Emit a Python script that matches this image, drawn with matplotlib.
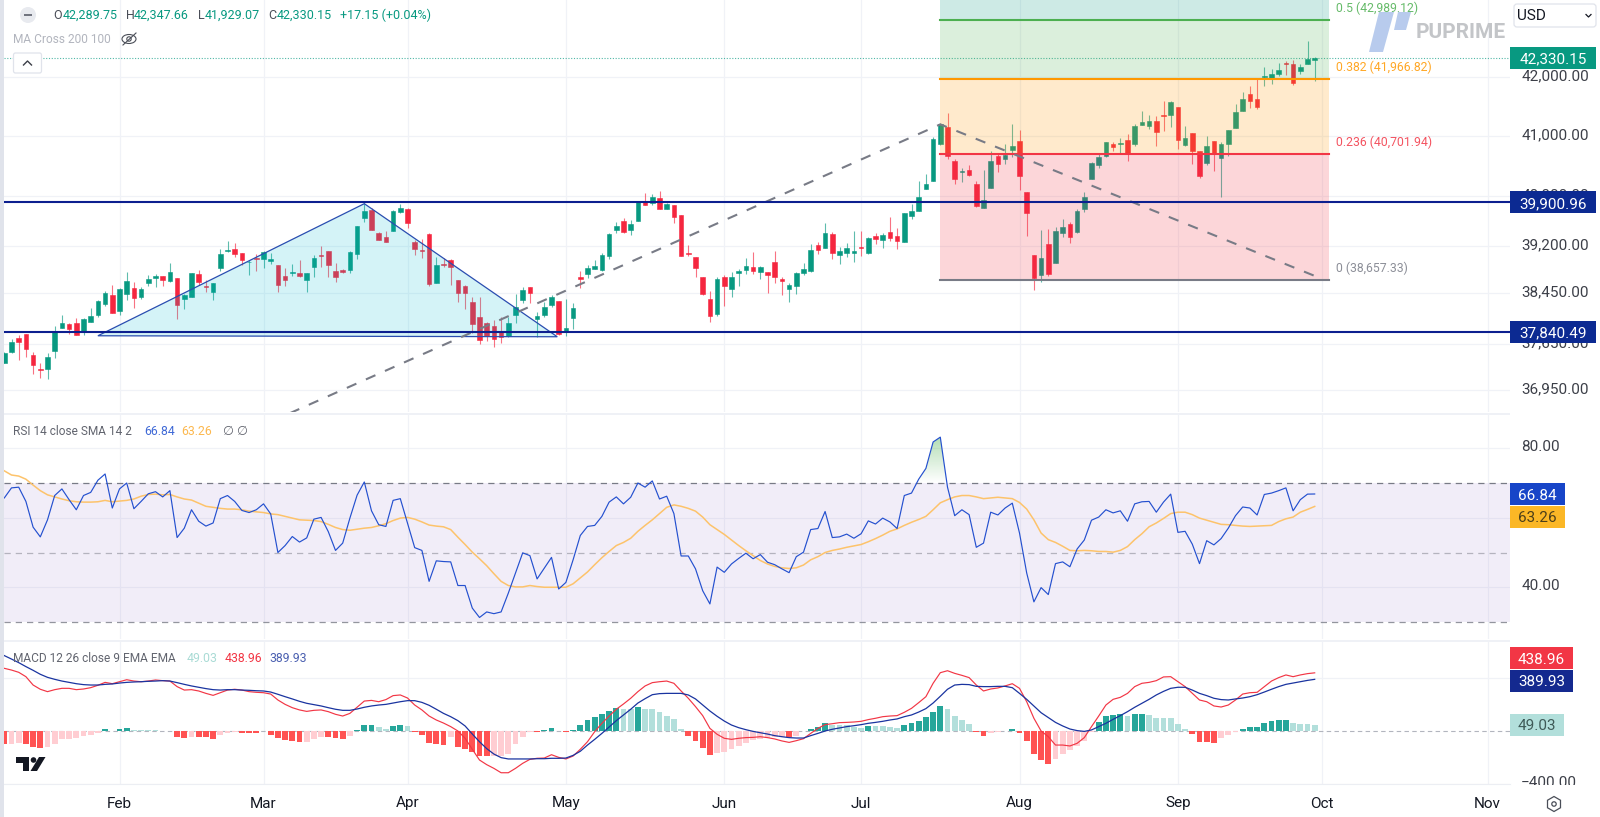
#! /usr/bin/env python
# -*- coding: utf-8 -*-

"""plot.py

Dow Jones daily candles with fibonacci levels, RSI and MACD panes.
"""

import matplotlib

matplotlib.use("Agg")

import matplotlib.pyplot as plt
import matplotlib.ticker
import numpy as np
from matplotlib.patches import Circle, Ellipse, FancyBboxPatch, Polygon, Rectangle, RegularPolygon
from matplotlib.transforms import ScaledTranslation

plt.rcParams["font.family"] = ["Roboto", "DejaVu Sans"]

# candles
opens = [
    37370, 37533, 37749, 37811, 37482, 37273, 37278, 37549, 37903, 37960,
    37976, 37841, 38002, 38111, 38278, 38419, 38168, 38434, 38534, 38387,
    38602, 38681, 38713, 38639, 38687, 38356, 38382, 38750, 38565, 38466,
    38839, 39116, 39148, 39079, 38935, 39009, 38983, 38951, 38892, 38713,
    38765, 38765, 38650, 38866, 39052, 39116, 38797, 38813, 38808, 39063,
    39653, 39772, 39399, 39340, 39442, 39750, 39799, 39255, 39132, 39388,
    38608, 38908, 38972, 38655, 38560, 38309, 38069, 37986, 37940, 37841,
    37780, 38106, 38340, 38539, 38049, 38106, 38262, 38329, 37836, 38059,
    38708, 38745, 38834, 38808, 39041, 39453, 39593, 39453, 39604, 39907,
    39891, 39978, 39794, 39853, 39691, 39084, 39020, 38702, 38361, 38121,
    38697, 38513, 38771, 38808, 38855, 38776, 38776, 38935, 38671, 38513,
    38560, 38760, 38792, 39207, 39169, 39383, 39047, 39089, 39079, 39180,
    39079, 39351, 39297, 39416, 39351, 39265, 39685, 39766, 40120, 40251,
    40860, 41144, 40582, 40395, 40439, 40202, 39815, 40136, 40665, 40615,
    40759, 40910, 40076, 39047, 38734, 39223, 38930, 39399, 39545, 39426,
    39799, 40284, 40510, 40665, 40871, 40871, 40932, 40871, 41183, 41166,
    41245, 41352, 41358, 41482, 40854, 41043, 40743, 40543, 40910, 40632,
    40860, 41138, 41426, 41714, 41629, 42000, 41988, 42051, 42235, 42229,
    42097, 42229, 42289.75,
]
highs = [
    37539, 37728, 37795, 37811, 37528, 37365, 37513, 37934, 38100, 37976,
    38054, 38054, 38209, 38340, 38487, 38576, 38523, 38781, 38629, 38539,
    38734, 38750, 38718, 38919, 38692, 38434, 38771, 38813, 38655, 38613,
    39143, 39276, 39249, 39084, 38978, 39068, 39116, 39079, 38892, 38845,
    38908, 38972, 38771, 39052, 39196, 39121, 38919, 38829, 39116, 39523,
    39897, 39805, 39426, 39437, 39777, 39875, 39805, 39292, 39303, 39410,
    39025, 38999, 38983, 38655, 38576, 38382, 38382, 38002, 38028, 38080,
    38069, 38434, 38539, 38550, 38147, 38314, 38419, 38329, 38350, 38288,
    38797, 38892, 38972, 39079, 39399, 39588, 39642, 39615, 39924, 40048,
    40032, 40087, 39897, 39859, 39691, 39212, 39025, 38702, 38487, 38708,
    38734, 38781, 38823, 39004, 39100, 38882, 38787, 39111, 38708, 38602,
    38776, 38919, 39228, 39255, 39566, 39416, 39185, 39239, 39437, 39437,
    39346, 39399, 39410, 39664, 39485, 39734, 39874, 40257, 40361, 40977,
    41211, 41380, 40609, 40471, 40516, 40257, 40439, 40748, 40720, 40865,
    41200, 41099, 40076, 39047, 39453, 39469, 39507, 39631, 39588, 39788,
    40065, 40565, 40692, 40899, 40904, 40971, 41032, 41200, 41414, 41352,
    41341, 41583, 41583, 41482, 41166, 41054, 40754, 40999, 40910, 40899,
    41099, 41539, 41737, 41845, 41960, 42166, 42143, 42235, 42281, 42292,
    42223, 42627, 42347.66,
]
lows = [
    37370, 37523, 37411, 37462, 37202, 37132, 37116, 37447, 37898, 37805,
    37795, 37800, 37992, 38080, 38251, 38131, 38106, 38340, 38220, 38356,
    38560, 38539, 38565, 38629, 38043, 38199, 38382, 38576, 38460, 38340,
    38802, 39095, 39025, 38887, 38739, 38802, 38850, 38908, 38460, 38565,
    38718, 38708, 38471, 38708, 38866, 38708, 38618, 38760, 38760, 38988,
    39588, 39453, 39292, 39260, 39437, 39723, 39491, 39057, 39009, 38565,
    38602, 38855, 38576, 38304, 38199, 37821, 37656, 37708, 37615, 37677,
    37770, 37976, 38299, 38299, 37770, 38080, 38235, 37800, 37785, 37888,
    38523, 38692, 38829, 38802, 38993, 39410, 39410, 39372, 39599, 39859,
    39859, 39794, 39788, 39572, 39041, 39036, 38708, 38419, 37997, 38090,
    38246, 38392, 38560, 38750, 38750, 38665, 38445, 38613, 38419, 38309,
    38434, 38734, 38787, 39063, 39164, 38993, 38914, 39025, 38935, 39041,
    39073, 39228, 39169, 39281, 39153, 39260, 39637, 39761, 40114, 40246,
    40854, 40609, 40197, 40230, 40340, 39821, 39815, 40131, 40400, 40527,
    40654, 40103, 39361, 38497, 38629, 38723, 38919, 39346, 39249, 39399,
    39745, 40279, 40460, 40654, 40754, 40720, 40587, 40837, 41177, 41121,
    40837, 41082, 41155, 40782, 40837, 40527, 40295, 40521, 40422, 39994,
    40665, 41133, 41420, 41471, 41454, 41845, 41880, 42017, 42034, 41863,
    42045, 42223, 41929.07,
]
closes = [
    37513, 37682, 37692, 37584, 37340, 37253, 37452, 37846, 37986, 37888,
    37800, 38038, 38095, 38330, 38450, 38142, 38513, 38639, 38371, 38518,
    38671, 38718, 38650, 38781, 38267, 38424, 38765, 38623, 38550, 38608,
    39068, 39132, 39063, 38967, 38946, 38983, 39095, 38988, 38581, 38655,
    38781, 38718, 38765, 39004, 39036, 38887, 38702, 38781, 39100, 39518,
    39766, 39458, 39297, 39266, 39755, 39805, 39561, 39153, 39116, 38587,
    38892, 38887, 38866, 38455, 38450, 37971, 37718, 37785, 37739, 37759,
    37976, 38235, 38497, 38445, 38085, 38235, 38382, 37806, 37898, 38219,
    38671, 38850, 38876, 39057, 39389, 39518, 39421, 39550, 39913, 39864,
    39994, 39794, 39869, 39664, 39041, 39063, 38845, 38434, 38090, 38671,
    38565, 38702, 38797, 38876, 38797, 38855, 38734, 38702, 38639, 38576,
    38766, 38823, 39132, 39137, 39399, 39089, 39111, 39159, 39111, 39159,
    39324, 39303, 39367, 39330, 39281, 39723, 39755, 39994, 40208, 40949,
    41194, 40671, 40285, 40411, 40351, 39848, 39935, 40582, 40532, 40682,
    40832, 40334, 39734, 38681, 38999, 38745, 39431, 39496, 39346, 39755,
    39994, 40549, 40648, 40893, 40815, 40882, 40704, 41166, 41228, 41245,
    41071, 41341, 41572, 40926, 40965, 40743, 40334, 40832, 40698, 40865,
    41093, 41397, 41617, 41595, 41488, 42023, 42051, 42120, 42218, 41903,
    42172, 42304, 42330.15,
]

rsi_values = [
    65.7, 68.6, 68.8, 64.7, 57.3, 54.5, 59.4, 66.4, 68.3, 65.2,
    62.3, 66.4, 67.3, 70.8, 72.6, 62.8, 68.3, 70.0, 62.6, 64.7,
    66.9, 67.5, 66.0, 67.8, 54.3, 57.0, 62.3, 59.0, 57.6, 58.5,
    65.5, 66.4, 64.7, 62.1, 61.5, 62.3, 64.0, 61.1, 50.0, 52.0,
    54.6, 53.0, 54.2, 59.6, 60.1, 56.0, 50.6, 52.7, 59.9, 66.5,
    70.3, 62.0, 58.0, 57.5, 65.0, 65.5, 58.5, 51.4, 50.6, 41.7,
    47.6, 47.4, 47.3, 40.5, 40.5, 34.0, 31.3, 32.9, 32.4, 32.9,
    38.3, 44.1, 49.9, 49.1, 42.4, 45.5, 48.6, 39.5, 41.4, 47.9,
    54.9, 57.5, 57.8, 60.4, 64.5, 66.0, 64.0, 65.9, 70.0, 68.8,
    70.6, 65.4, 66.2, 61.2, 49.0, 49.0, 45.3, 39.0, 35.2, 45.8,
    44.3, 46.7, 48.3, 49.8, 48.2, 49.4, 47.2, 46.5, 45.3, 44.2,
    48.8, 50.1, 56.6, 56.9, 61.8, 54.3, 54.5, 55.3, 54.1, 55.4,
    59.1, 58.2, 59.9, 58.8, 56.9, 66.4, 67.1, 71.1, 74.2, 81.8,
    83.2, 68.8, 60.6, 62.3, 60.9, 51.5, 52.7, 61.6, 60.8, 62.8,
    64.2, 55.6, 44.1, 35.8, 39.9, 37.9, 46.8, 47.3, 45.9, 51.0,
    53.6, 59.3, 60.2, 62.3, 61.4, 62.0, 59.0, 64.0, 64.6, 64.7,
    61.6, 64.5, 66.8, 55.8, 56.1, 52.4, 46.8, 53.4, 52.2, 54.0,
    57.0, 60.6, 63.1, 62.8, 60.8, 66.7, 67.1, 67.8, 68.6, 62.0,
    65.2, 66.8, 66.84,
]
rsi_sma = [
    73.5, 72.3, 72.0, 71.1, 69.4, 67.8, 66.6, 66.0, 65.4, 64.9,
    64.6, 64.5, 64.5, 64.6, 65.0, 64.6, 64.8, 65.0, 65.4, 66.2,
    66.7, 66.8, 66.6, 66.7, 66.0, 65.4, 65.1, 64.2, 63.3, 63.0,
    62.7, 62.5, 62.5, 62.3, 61.9, 61.7, 61.5, 61.1, 60.9, 60.4,
    59.9, 59.4, 59.3, 59.2, 58.9, 58.1, 57.2, 56.6, 56.4, 56.7,
    57.0, 57.2, 57.7, 58.3, 59.2, 59.9, 60.1, 59.6, 58.8, 57.9,
    57.6, 57.4, 56.6, 54.4, 52.3, 50.1, 48.2, 46.2, 43.9, 41.7,
    40.5, 40.1, 40.1, 40.5, 40.2, 40.0, 40.0, 40.0, 40.0, 41.0,
    42.7, 44.4, 46.5, 48.5, 50.3, 52.0, 52.9, 54.1, 56.1, 57.8,
    59.4, 61.2, 63.0, 63.7, 63.3, 62.7, 61.9, 60.2, 58.0, 56.6,
    55.2, 53.6, 52.0, 50.5, 49.1, 47.7, 46.7, 46.0, 45.6, 45.4,
    45.6, 46.4, 47.9, 48.8, 50.0, 50.6, 51.0, 51.5, 51.9, 52.3,
    53.1, 54.0, 55.0, 56.1, 56.8, 57.8, 58.7, 59.5, 60.4, 62.3,
    64.3, 65.2, 66.0, 66.4, 66.4, 66.0, 65.5, 65.7, 65.9, 65.7,
    65.5, 64.4, 62.5, 59.4, 55.6, 53.7, 52.9, 51.8, 50.6, 50.5,
    50.6, 50.5, 50.3, 50.3, 50.1, 50.6, 51.7, 53.7, 55.4, 57.4,
    58.5, 59.8, 61.2, 61.6, 61.6, 60.9, 59.9, 59.3, 58.7, 58.1,
    58.0, 57.8, 57.6, 57.5, 57.6, 57.7, 57.8, 58.9, 59.7, 60.2,
    61.6, 62.4, 63.26,
]

macd_hist = [
    -97, -95, -93, -101, -118, -131, -118, -96, -63, -58,
    -50, -40, -30, -18, 15, 3, 15, 23, 10, 8,
    8, 8, 3, 3, -43, -55, -43, -48, -48, -58,
    -33, -15, -5, -13, -18, -18, -1, -28, -55, -70,
    -75, -83, -81, -58, -43, -43, -55, -58, -35, 8,
    45, 48, 30, 15, 40, 43, 38, -8, -33, -88,
    -101, -103, -43, -123, -133, -161, -189, -191, -189, -186,
    -174, -101, -43, -8, -8, 8, 23, 0, -10, 8,
    45, 83, 106, 131, 151, 174, 166, 164, 181, 169,
    166, 143, 113, 88, 18, -35, -75, -131, -184, -169,
    -156, -133, -113, -93, -68, -60, -53, -48, -43, -48,
    -38, -3, 15, 30, 58, 45, 45, 43, 33, 25,
    40, 38, 38, 33, 25, 48, 63, 75, 103, 146,
    189, 166, 113, 83, 53, -8, -40, -13, -5, 3,
    15, -13, -75, -174, -219, -249, -214, -174, -143, -113,
    -75, -5, 65, 113, 123, 128, 116, 128, 131, 118,
    101, 98, 96, 53, 18, -23, -81, -81, -88, -55,
    -30, -10, 18, 30, 33, 58, 75, 83, 86, 60,
    55, 53, 49.03,
]
macd_line = [
    473, 460, 443, 410, 347, 315, 297, 312, 322, 322,
    312, 317, 327, 345, 367, 357, 372, 387, 377, 372,
    377, 385, 380, 377, 335, 309, 312, 302, 284, 269,
    289, 309, 315, 309, 297, 292, 289, 279, 234, 201,
    176, 159, 148, 156, 159, 146, 126, 113, 133, 179,
    226, 231, 221, 237, 267, 272, 249, 196, 159, 113,
    83, 60, 33, 0, -55, -138, -219, -254, -282, -315,
    -315, -282, -244, -214, -206, -204, -179, -199, -211, -189,
    -138, -81, -5, 58, 113, 164, 204, 247, 297, 340,
    365, 372, 377, 360, 302, 247, 184, 116, 20, -25,
    -55, -63, -55, -50, -48, -43, -50, -60, -75, -86,
    -73, -58, -18, 20, 48, 55, 63, 65, 68, 73,
    86, 96, 108, 113, 116, 141, 171, 214, 259, 360,
    440, 455, 435, 420, 403, 347, 302, 317, 325, 340,
    357, 322, 221, 96, 0, -43, -106, -106, -113, -93,
    -50, 33, 113, 196, 239, 254, 284, 335, 360, 367,
    380, 408, 410, 372, 335, 284, 234, 221, 189, 181,
    196, 234, 279, 289, 292, 335, 377, 403, 423, 410,
    423, 433, 438.96,
]
macd_signal = [
    569, 543, 516, 486, 458, 428, 405, 390, 377, 367,
    357, 350, 347, 347, 352, 355, 362, 367, 370, 372,
    375, 377, 380, 377, 365, 352, 340, 330, 320, 312,
    309, 312, 312, 309, 307, 304, 302, 294, 277, 259,
    242, 224, 209, 199, 189, 176, 164, 156, 156, 166,
    179, 189, 196, 201, 211, 221, 229, 229, 216, 194,
    164, 133, 108, 78, 38, -23, -81, -133, -174, -201,
    -211, -211, -211, -211, -209, -209, -206, -206, -204, -184,
    -153, -106, -63, -18, 30, 78, 121, 164, 211, 244,
    274, 282, 284, 284, 284, 272, 242, 196, 151, 111,
    75, 45, 25, 10, -3, -13, -23, -35, -43, -50,
    -53, -53, -35, -18, 0, 13, 23, 33, 40, 48,
    58, 65, 73, 83, 91, 108, 121, 143, 169, 211,
    262, 315, 347, 352, 350, 337, 335, 335, 337, 337,
    327, 284, 239, 189, 138, 101, 65, 38, 15, 3,
    -3, 8, 33, 58, 88, 116, 146, 179, 209, 239,
    272, 299, 322, 330, 330, 309, 284, 267, 247, 237,
    234, 242, 249, 259, 274, 294, 315, 335, 352, 362,
    372, 382, 389.93,
]

# bar number where each month starts
month_names = ["Feb", "Mar", "Apr", "May", "Jun", "Jul", "Aug", "Sep", "Oct", "Nov"]
month_bars = [16, 36, 56, 78, 100, 119, 141, 163, 183, 206]

price_ticks = [36950, 37650, 38450, 39200, 40000, 41000, 42000]
rsi_ticks = [40, 60, 80]
rsi_tick_labels = [40, 80]
macd_ticks = [-400, 400]

support_levels = [39900.96, 37840.49]
last_close = 42330.15

fib_ratios = ["0.5", "0.382", "0.236", "0"]
fib_prices = [42989.12, 41966.82, 40701.94, 38657.33]
fib_colors = ["#4caf50", "#ff9800", "#f23645", "#787b86"]
fib_top_color = "#089981"
fib_start_bar = 130
fib_end_bar = 184

triangle_bars = [13, 50, 76.8]
triangle_prices = [37784, 39880, 37769]
trend_bars = [37, 130, 182]
trend_prices = [36480, 41194, 38720]

up_color = "#089981"
down_color = "#f5263f"
grid_color = "#f0f2f7"
navy = "#0c1f8f"

W, H = 1600, 817
PLOT_RIGHT = 1510
# the bars are 7.2 px apart and the first one is centred 4.3 px in
BAR_STEP = 7.2
BAR_ZERO = 4.3
xlim = ((4 - BAR_ZERO) / BAR_STEP, (PLOT_RIGHT - BAR_ZERO) / BAR_STEP)


def pane(top, bottom):
    """Axes from pixel row top to pixel row bottom."""
    ax = fig.add_axes(
        [4 / W, 1 - bottom / H, (PLOT_RIGHT - 4) / W, (bottom - top) / H]
    )
    ax.set_xlim(xlim)
    for side in ax.spines.values():
        side.set_visible(False)
    ax.set_xticks(month_bars)
    ax.tick_params(axis="both", length=0)
    ax.yaxis.tick_right()
    ax.grid(True, color=grid_color, linewidth=0.9, zorder=0)
    ax.set_axisbelow(True)
    return ax


def raise_labels(ax):
    """The scale labels sit a little above their grid lines."""
    shift = ScaledTranslation(0, 2.4 / 100, fig.dpi_scale_trans)
    for label in ax.get_yticklabels():
        label.set_transform(label.get_transform() + shift)


fig = plt.figure(figsize=(W / 100, H / 100), dpi=100, facecolor="white")
bars = np.arange(len(closes))

# ---- price pane
ax_price = pane(0, 412)
ax_price.set_yscale("log")
ax_price.set_ylim(36625, 43342)
ax_price.yaxis.set_minor_locator(matplotlib.ticker.NullLocator())
ax_price.yaxis.set_minor_formatter(matplotlib.ticker.NullFormatter())
ax_price.set_yticks(price_ticks, ["{:,.2f}".format(t) for t in price_ticks])
ax_price.set_xticklabels([])
ax_price.tick_params(axis="both", length=0)
ax_price.tick_params(axis="y", labelsize=11, labelcolor="#3c3f48", pad=8)
raise_labels(ax_price)

colors = [up_color if c >= o else down_color for o, c in zip(opens, closes)]
body_low = np.minimum(opens, closes)
body_high = np.maximum(opens, closes)
ax_price.vlines(bars, lows, highs, colors=colors, linewidth=0.8, alpha=0.65, zorder=3)
ax_price.bar(
    bars,
    body_high - body_low,
    bottom=body_low,
    width=0.62,
    color=colors,
    linewidth=0.4,
    edgecolor=colors,
    zorder=3,
)

# fibonacci zones lie over the candles, see-through
ymax = ax_price.get_ylim()[1]
zone_x = [fib_start_bar, fib_end_bar]
ax_price.fill_between(zone_x, fib_prices[0], ymax, color=fib_top_color, alpha=0.2, lw=0, zorder=4)
for i in range(3):
    ax_price.fill_between(
        zone_x, fib_prices[i + 1], fib_prices[i], color=fib_colors[i], alpha=0.2, lw=0, zorder=4
    )
for ratio, price, color in zip(fib_ratios, fib_prices, fib_colors):
    ax_price.plot(zone_x, [price, price], color=color, linewidth=1.5, zorder=5)
    ax_price.annotate(
        "{} ({:,.2f})".format(ratio, price),
        (fib_end_bar, price),
        xytext=(5, 8.6),
        textcoords="offset points",
        va="center",
        ha="left",
        fontsize=8.8,
        color=color,
        alpha=0.85,
        annotation_clip=False,
        zorder=7,
    )

ax_price.add_patch(
    Polygon(
        list(zip(triangle_bars, triangle_prices)),
        closed=True,
        facecolor=(0, 0.74, 0.83, 0.17),
        edgecolor="#2a4db0",
        linewidth=0.9,
        zorder=4,
    )
)
ax_price.plot(
    trend_bars,
    trend_prices,
    color="#787b86",
    linewidth=1.5,
    dashes=(5, 5),
    zorder=5,
)
for level in support_levels:
    ax_price.axhline(level, color=navy, linewidth=1.5, zorder=6)
ax_price.axhline(last_close, color=up_color, linewidth=0.8, linestyle=(0, (1, 1.5)), alpha=0.7, zorder=3)

# ---- RSI pane
ax_rsi = pane(415, 639)
ax_rsi.set_yticks(rsi_ticks, ["{:.2f}".format(t) if t in rsi_tick_labels else "" for t in rsi_ticks])
ax_rsi.set_xticklabels([])
ax_rsi.tick_params(axis="y", labelsize=11, labelcolor="#3c3f48", pad=8)
raise_labels(ax_rsi)
ax_rsi.axhspan(30, 70, color="#7e57c2", alpha=0.1, lw=0, zorder=1)
ax_rsi.axhline(70, color="#787b86", linewidth=0.9, dashes=(5, 4), zorder=2)
ax_rsi.axhline(50, color="#787b86", linewidth=0.9, dashes=(5, 4), alpha=0.5, zorder=2)
ax_rsi.axhline(30, color="#787b86", linewidth=0.9, dashes=(5, 4), alpha=0.8, zorder=2)

# overbought gradient, only the part of the line above 70
rsi = np.array(rsi_values)
over = ax_rsi.fill_between(bars, 70, rsi, where=rsi >= 70, interpolate=True, color="none", lw=0)
rgba = np.zeros((64, 1, 4))
rgba[..., 0] = 0.3
rgba[..., 1] = 0.69
rgba[..., 2] = 0.31
rgba[:, 0, 3] = np.linspace(0.45, 0, 64)
im = ax_rsi.imshow(rgba, extent=(125, 135, 70, 84), aspect="auto", zorder=2, origin="upper")
im.set_clip_path(over.get_paths()[-1], transform=ax_rsi.transData)
ax_rsi.set_xlim(xlim)
ax_rsi.set_ylim(25.11, 89.57)

ax_rsi.plot(bars, rsi_sma, color="#fdc36b", linewidth=1.1, zorder=3)
ax_rsi.plot(bars, rsi_values, color="#2450cf", linewidth=0.85, zorder=4)

# ---- MACD pane
ax_macd = pane(642, 784)
ax_macd.set_ylim(-400, 671.7)
ax_macd.set_yticks(macd_ticks, ["\u2212400.00", ""])
ax_macd.set_xticklabels(month_names, fontsize=11, color="#131722")
ax_macd.tick_params(axis="x", pad=9)
ax_macd.tick_params(axis="y", labelsize=11, labelcolor="#3c3f48", pad=8)
raise_labels(ax_macd)
ax_macd.axhline(0, color="#b2b5be", linewidth=0.8, dashes=(4, 3), zorder=1)

hist_colors = []
for i, v in enumerate(macd_hist):
    prev = macd_hist[i - 1] if i else v
    if v >= 0:
        hist_colors.append("#26a69a" if v > prev else "#b2dfdb")
    else:
        hist_colors.append("#ffcdd2" if v > prev else "#ff5252")
ax_macd.bar(bars, macd_hist, width=0.82, color=hist_colors, linewidth=0, zorder=2)
ax_macd.plot(bars, macd_line, color="#f23645", linewidth=0.85, zorder=3)
ax_macd.plot(bars, macd_signal, color="#1a34a0", linewidth=0.9, zorder=4)

# ---- everything around the panes, in pixels of the picture
ov = fig.add_axes([0, 0, 1, 1], zorder=5)
ov.set_xlim(0, W)
ov.set_ylim(H, 0)
ov.axis("off")
ov.patch.set_alpha(0)


def pixel_y(ax, value):
    """Pixel row of a value on an axis."""
    return H - ax.transData.transform((0, value))[1]


def label_box(y, text, face, color="white", right=1596):
    ov.add_patch(Rectangle((PLOT_RIGHT, y - 11), right - PLOT_RIGHT, 22, facecolor=face, linewidth=0))
    ov.text((PLOT_RIGHT + right) / 2, y, text, color=color, fontsize=11, ha="center", va="center_baseline")


ov.add_patch(Rectangle((0, 0), 4, H, facecolor="#e0e3eb", linewidth=0))
ov.add_patch(Rectangle((4, 412.5), PLOT_RIGHT - 4, 2.5, facecolor="#eff1f6", linewidth=0))
ov.add_patch(Rectangle((4, 639.5), PLOT_RIGHT - 4, 2.5, facecolor="#eff1f6", linewidth=0))
ov.plot([4, PLOT_RIGHT], [784, 784], color="#eceef3", linewidth=0.8)
# the axis below the MACD pane cuts the lowest label in half
ov.add_patch(Rectangle((PLOT_RIGHT, 785), W - PLOT_RIGHT, H - 785, facecolor="white", linewidth=0))

# price scale labels
label_box(pixel_y(ax_price, last_close), "42,330.15", up_color)
for level in support_levels:
    label_box(pixel_y(ax_price, level), "{:,.2f}".format(level), "#0c2a92")

label_box(494, "66.84", "#1745c8", right=1565)
label_box(517, "63.26", "#fbb726", color="#4c3f1a", right=1565)
label_box(658, "438.96", "#f23645", right=1573)
label_box(681, "389.93", "#14298f", right=1573)
label_box(725, "49.03", "#b2dfdb", color="#3f5a57", right=1564)

# USD selector
ov.add_patch(
    FancyBboxPatch(
        (1514, 4), 82, 23, boxstyle="round,pad=0,rounding_size=3", facecolor="white", edgecolor="#e0e3eb", linewidth=0.9
    )
)
ov.text(1517, 15.5, "USD", fontsize=11, color="#131722", va="center", ha="left")
ov.plot([1586, 1588.5, 1591], [14.5, 17, 14.5], color="#131722", linewidth=0.9)

# header
ov.add_patch(Circle((28, 15), 8, facecolor="#e8eaef", linewidth=0))
ov.add_patch(Rectangle((24, 13.7), 8, 2.6, facecolor="#71747f", linewidth=0))
for x, letter, x_value, value in [
    (53, "O", 63, "42,289.75"),
    (126, "H", 134, "42,347.66"),
    (198, "L", 205, "41,929.07"),
    (268, "C", 277, "42,330.15"),
]:
    ov.text(x, 15, letter, fontsize=9, color="#4a4e58", va="center", ha="left")
    ov.text(x_value, 15, value, fontsize=9, color=up_color, va="center", ha="left")
ov.text(340, 15, "+17.15 (+0.04%)", fontsize=9, color=up_color, va="center", ha="left")

ov.text(13, 39, "MA Cross 200 100", fontsize=8.6, color="#b2b5be", va="center", ha="left")
ov.add_patch(Ellipse((129, 39), 14, 9, facecolor="none", edgecolor="#4a4e58", linewidth=0.8))
ov.add_patch(Circle((129, 39), 2.2, facecolor="none", edgecolor="#4a4e58", linewidth=0.8))
ov.plot([123, 136], [45, 33], color="#4a4e58", linewidth=0.8)
ov.add_patch(
    FancyBboxPatch(
        (13.5, 53), 28, 20, boxstyle="round,pad=0,rounding_size=2", facecolor="white", edgecolor="#e0e3eb", linewidth=0.9
    )
)
ov.plot([23.5, 27.5, 31.5], [65, 61, 65], color="#3c3f48", linewidth=1)

# pane legends
ov.text(13, 431, "RSI 14 close SMA 14 2", fontsize=8.6, color="#62656f", va="center", ha="left")
ov.text(144, 431, "66.84", fontsize=8.8, color="#3f69d6", va="center", ha="left")
ov.text(181, 431, "63.26", fontsize=8.8, color="#fcb84f", va="center", ha="left")
ov.text(222, 431, "\u2205", fontsize=9, color="#62656f", va="center", ha="left")
ov.text(236, 431, "\u2205", fontsize=9, color="#62656f", va="center", ha="left")
ov.text(13, 658, "MACD 12 26 close 9 EMA EMA", fontsize=8.6, color="#62656f", va="center", ha="left")
ov.text(187, 658, "49.03", fontsize=8.8, color="#a9dbd5", va="center", ha="left")
ov.text(225, 658, "438.96", fontsize=8.8, color="#f23645", va="center", ha="left")
ov.text(269, 658, "389.93", fontsize=8.8, color="#4a5fb0", va="center", ha="left")

# TradingView mark
ov.add_patch(Polygon([(16, 757), (29, 757), (29, 771), (23, 771), (23, 763), (16, 763)], facecolor="#131722", linewidth=0))
ov.add_patch(Circle((33.5, 760), 2.8, facecolor="#131722", linewidth=0))
ov.add_patch(Polygon([(39, 757), (45.5, 757), (37, 771), (30.5, 771)], facecolor="#131722", linewidth=0))

# settings icon under the price scale
ov.add_patch(
    RegularPolygon((1554, 804), 6, radius=7.5, facecolor="none", edgecolor="#4a4e58", linewidth=0.9)
)
ov.add_patch(Circle((1554, 804), 2.2, facecolor="none", edgecolor="#4a4e58", linewidth=0.9))

# broker watermark
ov.add_patch(Polygon([(1379, 12), (1394, 12), (1383, 52), (1369, 52)], facecolor="#b4c9ec", linewidth=0, alpha=0.95))
ov.add_patch(Polygon([(1398, 12), (1411, 12), (1406, 30), (1394, 30)], facecolor="#b4c9ec", linewidth=0, alpha=0.95))
ov.text(1416, 32, "PUPRIME", fontsize=15, fontweight="bold", color="#c3c5c8", va="center", ha="left")

fig.savefig("out.png", dpi=100)
plt.close(fig)
